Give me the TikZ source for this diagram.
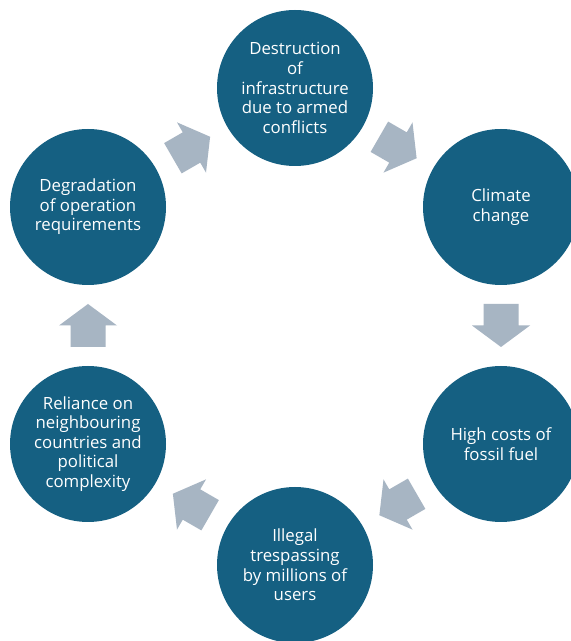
\documentclass[tikz,border=0pt]{standalone}
\usepackage{fontspec}
\setmainfont{Open Sans}
\usetikzlibrary{calc}
\definecolor{circc}{HTML}{156082}
\definecolor{arrowc}{HTML}{A7B5C3}
\tikzset{
  cyc/.style={circle, fill=circc, draw=none, minimum size=156pt, inner sep=0pt,
    text=white, align=center, font=\fontsize{16.8}{19.6}\selectfont},
  blockarrow/.pic={\fill[arrowc] (-21.5,-17.5) -- (0,-17.5) -- (0,-29) -- (21.5,0)
    -- (0,29) -- (0,17.5) -- (-21.5,17.5) -- cycle;}
}
\begin{document}
\begin{tikzpicture}[x=1pt,y=1pt]
\useasboundingbox[fill=white] (0,0) rectangle (571,641);
\node[cyc] (top) at (295,553) {Destruction\\of\\infrastructure\\due to armed\\conflicts};
\node[cyc] (ur) at (501,434) {Climate\\change};
\node[cyc] (lr) at (501,197) {High costs of\\fossil fuel};
\node[cyc] (bot) at (295,76) {Illegal\\trespassing\\by millions of\\users};
\node[cyc] (ll) at (88,197) {Reliance on\\neighbouring\\countries and\\political\\complexity};
\node[cyc] (ul) at (88,434) {Degradation\\of operation\\requirements};
\pic[rotate=-30] at ($(top)!0.5!(ur)$) {blockarrow};
\pic[rotate=-90] at ($(ur)!0.5!(lr)$) {blockarrow};
\pic[rotate=-150] at ($(lr)!0.5!(bot)$) {blockarrow};
\pic[rotate=150] at ($(bot)!0.5!(ll)$) {blockarrow};
\pic[rotate=90] at ($(ll)!0.5!(ul)$) {blockarrow};
\pic[rotate=30] at ($(ul)!0.5!(top)$) {blockarrow};
\end{tikzpicture}
\end{document}
